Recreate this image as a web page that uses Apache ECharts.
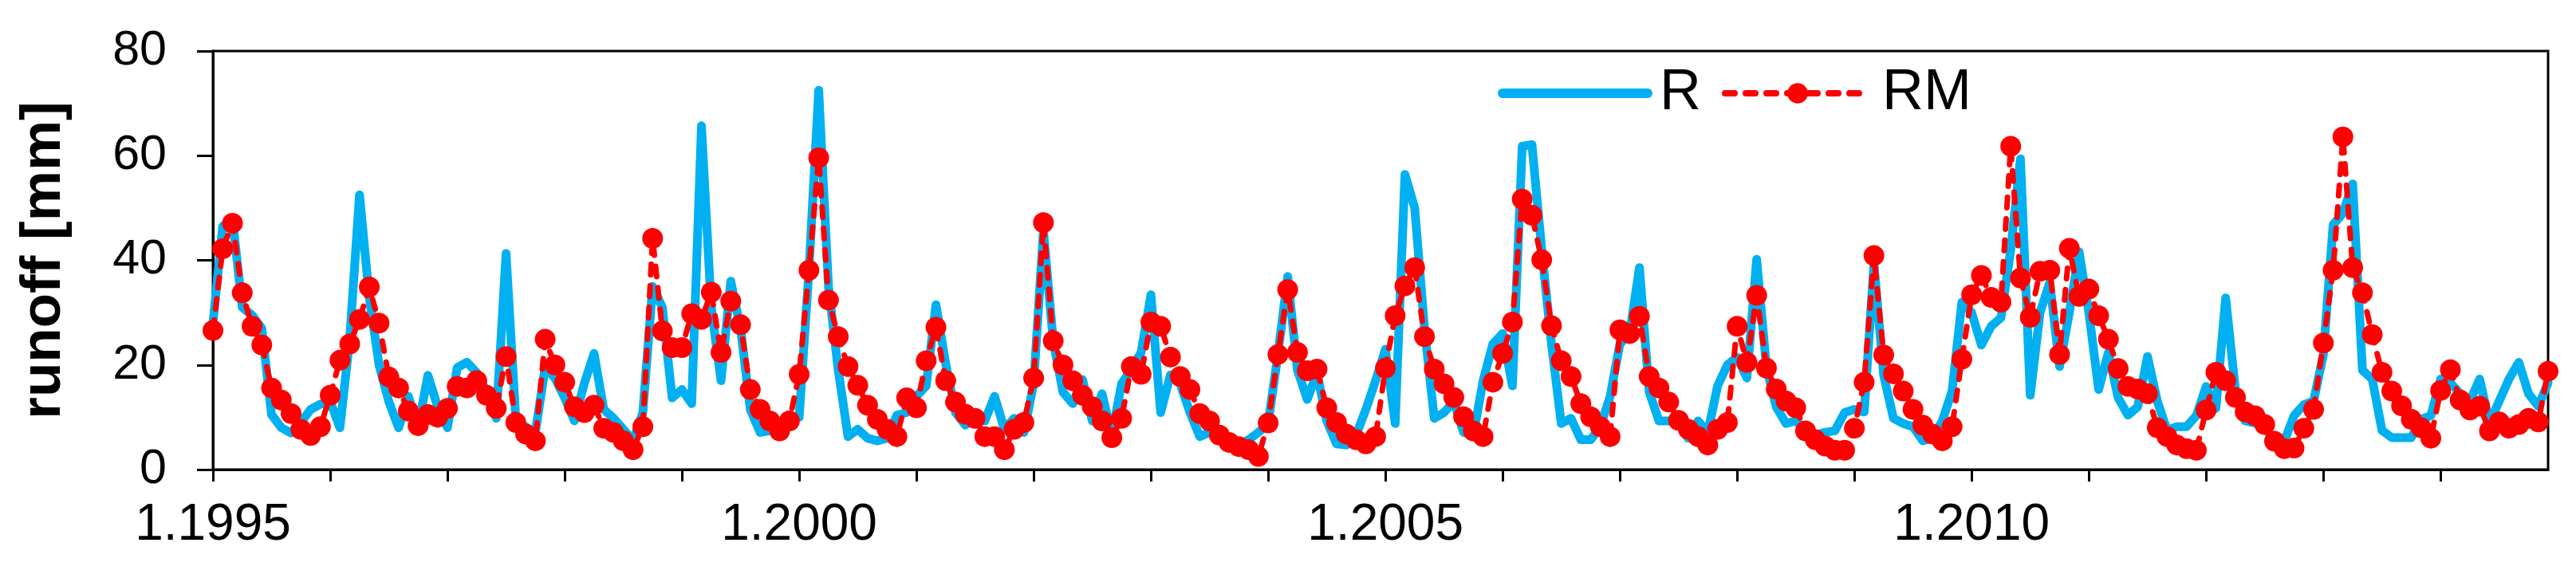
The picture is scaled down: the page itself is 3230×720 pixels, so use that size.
<!DOCTYPE html>
<html>
<head>
<meta charset="utf-8">
<script src="https://cdn.jsdelivr.net/npm/echarts@6/dist/echarts.min.js"></script>
<style>
  html, body { margin: 0; padding: 0; background: #fff; }
  #chart { width: 3230px; height: 720px; }
</style>
</head>
<body>
<div id="chart"></div>
<script>
// monthly series, Jan 1995 .. Dec 2014
const years = [1995, 1996, 1997, 1998, 1999, 2000, 2001, 2002, 2003, 2004,
               2005, 2006, 2007, 2008, 2009, 2010, 2011, 2012, 2013, 2014];

// observed runoff R [mm]
const runoffR = [
  28, 46.5, 48, 31, 29.5, 27, 10.5, 8, 7, 9, 11.5, 12.5,
  13, 8, 25, 52.5, 33, 20, 13, 8, 14, 8, 18, 12,
  8, 19.5, 20.5, 18.5, 15, 9.8, 41.3, 9.5, 8.2, 7.1, 19.5, 17.5,
  13.7, 9.3, 16.4, 22.2, 11.5, 9.8, 7.7, 5.5, 10.9, 35, 31, 13.7,
  15.3, 12.6, 65.7, 31, 17, 36, 27, 11.5, 7.1, 7.4, 7.7, 9.3,
  10, 38, 72.5, 35, 19, 6.3, 7.7, 6, 5.5, 6, 10.4, 10.9,
  14, 16, 31.5, 20.2, 10.9, 8.5, 9.8, 9.3, 14, 7.7, 9.8, 7.1,
  16.4, 45.7, 24.6, 14.8, 12.6, 17.2, 9.3, 14.5, 6.6, 16.4, 19.2, 22.4,
  33.4, 10.9, 18.1, 16.4, 10.9, 6.3, 7.1, 5.7, 4.4, 4.7, 5.7, 7.1,
  8.8, 22, 36.9, 19, 13.4, 18.5, 9.3, 4.9, 4.7, 6.6, 11.5, 17,
  23, 8.8, 56.4, 50, 27, 9.8, 10.9, 13, 7.1, 6.6, 17, 24,
  26, 16, 61.8, 62.1, 42, 24, 8.8, 9.8, 5.7, 5.7, 8.2, 14,
  24, 26, 38.6, 14.8, 9.3, 9.3, 8.8, 6, 9.3, 7.1, 16, 20,
  21.5, 17.5, 40.2, 19.5, 12, 8.8, 9.3, 7.7, 6.6, 7.1, 7.4, 10.9,
  11.5, 11, 39.4, 18, 9.8, 8.8, 8.2, 5.5, 6, 9.3, 15, 32,
  30, 23.8, 27.4, 29, 42, 59.4, 14.2, 30, 35.8, 19.7, 30, 41.6,
  30, 15.3, 22.4, 13.7, 10.4, 12, 21.6, 13.1, 7.5, 8.2, 8.2, 10.3,
  15.9, 11.7, 32.8, 15.2, 9.3, 8.9, 7.9, 5.8, 5.4, 10.3, 12.4, 13.1,
  22, 46.8, 49, 54.6, 19, 17.3, 7.5, 6.1, 6.1, 6.1, 9.6, 10.3,
  17.3, 16.6, 14.5, 13.1, 17.3, 8.9, 13.1, 17.3, 20.5, 14.5, 12.1, 16.6
];

// modelled runoff RM [mm]
const runoffRM = [
  26.6, 42.2, 47.1, 33.8, 27.4, 23.8, 15.6, 13.3, 10.7, 7.7, 6.5, 8.2,
  14.2, 20.9, 24, 28.7, 34.9, 28, 17.7, 15.6, 11.2, 8.4, 10.5, 10,
  11.7, 15.9, 15.6, 17, 14.2, 11.7, 21.6, 9, 6.8, 5.5, 24.9, 20,
  16.7, 12, 10.9, 12.3, 7.9, 7.1, 5.5, 3.8, 8.2, 44.2, 26.5, 23.3,
  23.3, 29.8, 28.7, 33.9, 22.4, 32.2, 27.7, 15.3, 11.5, 9.3, 7.4, 9.3,
  18.2, 38.1, 59.6, 32.4, 25.4, 19.7, 16.1, 12.3, 9.6, 7.7, 6.3, 13.7,
  11.8, 20.8, 27.2, 17, 12.9, 10.6, 9.8, 6.3, 6.3, 3.8, 7.7, 9,
  17.5, 47.2, 24.6, 20, 17, 14.2, 12, 9.3, 6.1, 9.8, 19.7, 18.2,
  28.2, 27.4, 21.5, 17.8, 15.3, 10.7, 9.3, 6.6, 5.2, 4.4, 3.8, 2.5,
  8.9, 22, 34.4, 22.4, 18.9, 19.2, 11.8, 9, 6.8, 5.7, 4.9, 6.3,
  19.4, 29.4, 35.1, 38.6, 25.4, 19.2, 16.4, 13.8, 10.1, 7.4, 6.3, 16.7,
  22.2, 28.2, 51.7, 48.6, 40.1, 27.5, 20.8, 17.8, 12.6, 10.1, 8.2, 6.3,
  26.7, 26, 29.3, 17.8, 15.6, 12.9, 9.4, 7.7, 6.3, 4.7, 7.7, 9,
  27.4, 20.5, 33.3, 19.4, 15.4, 13.1, 11.8, 7.4, 5.7, 4.5, 3.7, 3.7,
  7.9, 16.7, 40.9, 21.9, 18.3, 15, 11.5, 8.5, 6.8, 5.5, 8.2, 21.1,
  33.4, 37.1, 32.9, 32, 61.8, 36.6, 29.1, 37.9, 38.1, 22, 42.3, 33.1,
  34.5, 29.4, 24.9, 19.3, 15.9, 15.4, 14.5, 8, 6.3, 4.7, 4, 3.7,
  11.4, 18.6, 17, 13.8, 11, 10.3, 8.6, 5.4, 4, 4.1, 7.9, 11.5,
  24.2, 38.1, 63.6, 38.6, 33.8, 25.8, 18.6, 15, 12.2, 9.6, 8, 6,
  15.1, 19.1, 13.3, 11.4, 12.1, 7.4, 9.1, 7.9, 8.6, 9.8, 9.1, 18.8
];

// category labels "month.year"
const months = [];
years.forEach(y => {
  for (let m = 1; m <= 12; m++) months.push(m + '.' + y);
});

const font = '"Liberation Sans", Arial, sans-serif';
const blue = '#00B0F0';
const red = '#FF0000';

const chart = echarts.init(document.getElementById('chart'));
chart.setOption({
  animation: false,
  backgroundColor: '#fff',
  grid: {
    left: 267, right: 35, top: 64, bottom: 131,
    show: true, borderColor: '#000', borderWidth: 3,
    outerBoundsMode: 'none'
  },
  legend: {
    left: 1873, top: 76,
    itemWidth: 182, itemHeight: 32, itemGap: 26,
    textStyle: { fontSize: 72, color: '#000', fontFamily: font, padding: [0, 0, 0, 10] },
    data: [
      {
        name: 'R',
        itemStyle: { color: 'transparent', borderWidth: 0 },
        lineStyle: { color: blue, width: 12, cap: 'round', type: 'solid' }
      },
      {
        name: 'RM',
        itemStyle: { color: red },
        lineStyle: { color: red, width: 8, type: [12, 14], cap: 'round' }
      }
    ]
  },
  xAxis: {
    type: 'category',
    data: months,
    boundaryGap: false,
    axisLine: { lineStyle: { color: '#000', width: 3 } },
    axisTick: { interval: 11, length: 15, lineStyle: { color: '#000', width: 3 } },
    axisLabel: { interval: 59, margin: 38, fontSize: 64, color: '#000', fontFamily: font },
    splitLine: { show: false }
  },
  yAxis: {
    type: 'value',
    min: 0, max: 80, interval: 20,
    name: 'runoff [mm]',
    nameLocation: 'middle',
    nameGap: 176,
    nameTextStyle: { fontSize: 71, fontWeight: 'bold', color: '#000', fontFamily: font },
    axisLine: { show: true, lineStyle: { color: '#000', width: 3 } },
    axisTick: { show: true, length: 20, lineStyle: { color: '#000', width: 3 } },
    axisLabel: { margin: 58, fontSize: 61, color: '#000', fontFamily: font },
    splitLine: { show: false }
  },
  series: [
    {
      name: 'R',
      type: 'line',
      data: runoffR,
      symbol: 'none',
      lineStyle: { color: blue, width: 11, cap: 'round', join: 'round' },
      itemStyle: { color: blue },
      z: 2
    },
    {
      name: 'RM',
      type: 'line',
      data: runoffRM,
      symbol: 'circle',
      symbolSize: 26,
      showAllSymbol: true,
      lineStyle: { color: red, width: 7, type: [13, 14], cap: 'round' },
      itemStyle: { color: red },
      z: 3
    }
  ]
});
</script>
</body>
</html>
